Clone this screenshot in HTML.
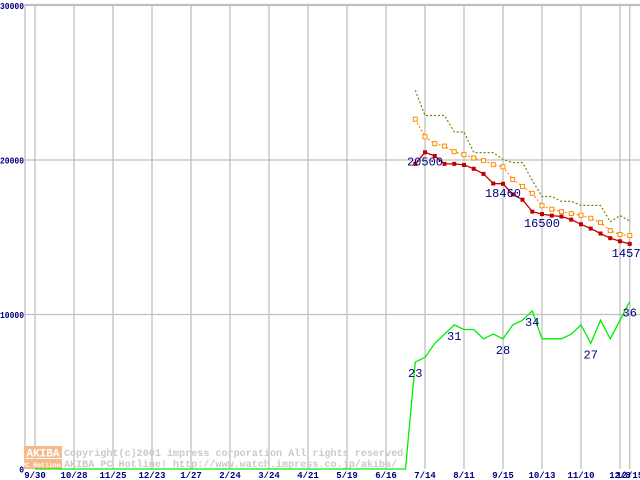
<!DOCTYPE html>
<html><head><meta charset="utf-8"><style>
html,body{margin:0;padding:0;background:#fff;}
svg{display:block;}
text{font-family:"Liberation Mono","DejaVu Sans Mono",monospace;}
</style></head><body>
<svg id="chart" width="640" height="480" viewBox="0 0 640 480" xmlns="http://www.w3.org/2000/svg">
<g id="grid"></g>
<g id="watermark">
  <rect x="24" y="446" width="38" height="12" fill="#f6b98a"/>
  <rect x="24" y="459" width="38" height="10" fill="#f6b98a"/>
  <text x="43" y="456.5" font-size="11" font-weight="bold" fill="#fff" text-anchor="middle">AKIBA</text>
  <text x="43" y="467" font-size="6.5" font-weight="bold" fill="#fff" text-anchor="middle">PC Hotline!</text>
  <text x="64" y="456" font-size="10.1" font-weight="bold" fill="#cacaca">Copyright(c)2001 impress corporation All rights reserved.</text>
  <text x="64" y="467" font-size="10.1" font-weight="bold" fill="#cacaca">AKIBA PC Hotline!  http://www.watch.impress.co.jp/akiba/</text>
</g>
<g id="series"></g>
<g id="labels"></g>
</svg>
<script>
const xTickLabels = ["9/30","10/28","11/25","12/23","1/27","2/24","3/24","4/21","5/19","6/16","7/14","8/11","9/15","10/13","11/10","12/8","12/15"];
const xTickWeeks = [0,4,8,12,16,20,24,28,32,36,40,44,48,52,56,60,61];
const yTicks = [0,10000,20000,30000];
const priceStartWeek = 39;
const priceMin = [19750,20500,20260,19750,19750,19680,19430,19100,18480,18460,17770,17430,16660,16500,16400,16340,16140,15840,15560,15240,14940,14740,14570];
const priceAvg = [22640,21500,21060,20900,20540,20350,20130,19960,19700,19560,18740,18290,17840,17040,16810,16660,16530,16420,16230,15950,15430,15180,15110];
const priceMax = [24510,22880,22880,22880,21810,21810,20480,20480,20480,20030,19830,19830,18670,17640,17640,17320,17320,17060,17060,17060,16000,16400,16050];
const shopCount = [0,0,0,0,0,0,0,0,0,0,0,0,0,0,0,0,0,0,0,0,0,0,0,0,0,0,0,0,0,0,0,0,0,0,0,0,0,0,0,23,24,27,29,31,30,30,28,29,28,31,32,34,28,28,28,29,31,27,32,28,32,36];
const priceLabelIdx = [1,9,13,22];
const countLabelIdx = [39,43,48,51,57,61];

const X0=35, WK=9.75, Y0=469, YS=154.5/10000, CS=4.65;
const xs = w => X0 + w*WK;
const ys = v => Y0 - v*YS;
const yc = c => Y0 - c*CS;
const NS="http://www.w3.org/2000/svg";
function mk(tag, attrs, parent){const e=document.createElementNS(NS,tag);for(const k in attrs)e.setAttribute(k,attrs[k]);parent.appendChild(e);return e;}
const grid=document.getElementById('grid'), ser=document.getElementById('series'), lab=document.getElementById('labels');

yTicks.forEach((v,i)=>{
  if(v>0){const l=mk('line',{x1:25,x2:640,y1:ys(v),y2:ys(v),stroke:'#c0c0c0','stroke-width':1.3},grid);
  
  }
  const s=String(v);
  const t=mk('text',{x:24,y:ys(v)+3.5,'font-size':9,'font-weight':'bold',fill:'#000080','text-anchor':'end',textLength:s.length*4.8,lengthAdjust:'spacingAndGlyphs'},lab);
  t.textContent=s;
  
  
});
xTickWeeks.forEach((w,i)=>{
  const l=mk('line',{x1:xs(w),x2:xs(w),y1:4,y2:469,stroke:'#c0c0c0','stroke-width':1.3},grid);
  
  
  const t=mk('text',{x:xs(w),y:478,'font-size':9,'font-weight':'bold',fill:'#000080','text-anchor':'middle'},lab);
  t.textContent=xTickLabels[i];
  
  
});
const ax=mk('line',{x1:25,x2:25,y1:4,y2:469,stroke:'#c0c0c0','stroke-width':1.3},grid);


const tp=mk('line',{x1:25,x2:640,y1:4.5,y2:4.5,stroke:'#c0c0c0','stroke-width':1.3},grid);



function pts(arr,start,f){return arr.map((v,i)=>xs(start+i).toFixed(1)+','+f(v).toFixed(1)).join(' ');}
const gl=mk('polyline',{points:pts(shopCount,0,yc),fill:'none',stroke:'#00ee00','stroke-width':1.3},ser);


const ml=mk('polyline',{points:pts(priceMax,priceStartWeek,ys),fill:'none',stroke:'#808000','stroke-width':1.2,'stroke-dasharray':'2,2'},ser);


const al=mk('polyline',{points:pts(priceAvg,priceStartWeek,ys),fill:'none',stroke:'#ff8c00','stroke-width':1.2,'stroke-dasharray':'2,2'},ser);


priceAvg.forEach((v,i)=>{
  const r=mk('rect',{x:xs(priceStartWeek+i)-2,y:ys(v)-2,width:4,height:4,fill:'#fff',stroke:'#ff8c00','stroke-width':1},ser);
  
  
});
const rl=mk('polyline',{points:pts(priceMin,priceStartWeek,ys),fill:'none',stroke:'#c00000','stroke-width':1.3},ser);


priceMin.forEach((v,i)=>{
  const r=mk('rect',{x:xs(priceStartWeek+i)-2,y:ys(v)-2,width:4,height:4,fill:'#c00000'},ser);
  
  
});
priceLabelIdx.forEach(i=>{
  const t=mk('text',{x:xs(priceStartWeek+i),y:ys(priceMin[i])+13,'font-size':12,fill:'#000080','text-anchor':'middle'},lab);
  t.textContent=String(priceMin[i]);
  
  
});
countLabelIdx.forEach(i=>{
  const t=mk('text',{x:xs(i),y:yc(shopCount[i])+15,'font-size':12,fill:'#000080','text-anchor':'middle'},lab);
  t.textContent=String(shopCount[i]);
  
  
});
</script>
</body></html>
